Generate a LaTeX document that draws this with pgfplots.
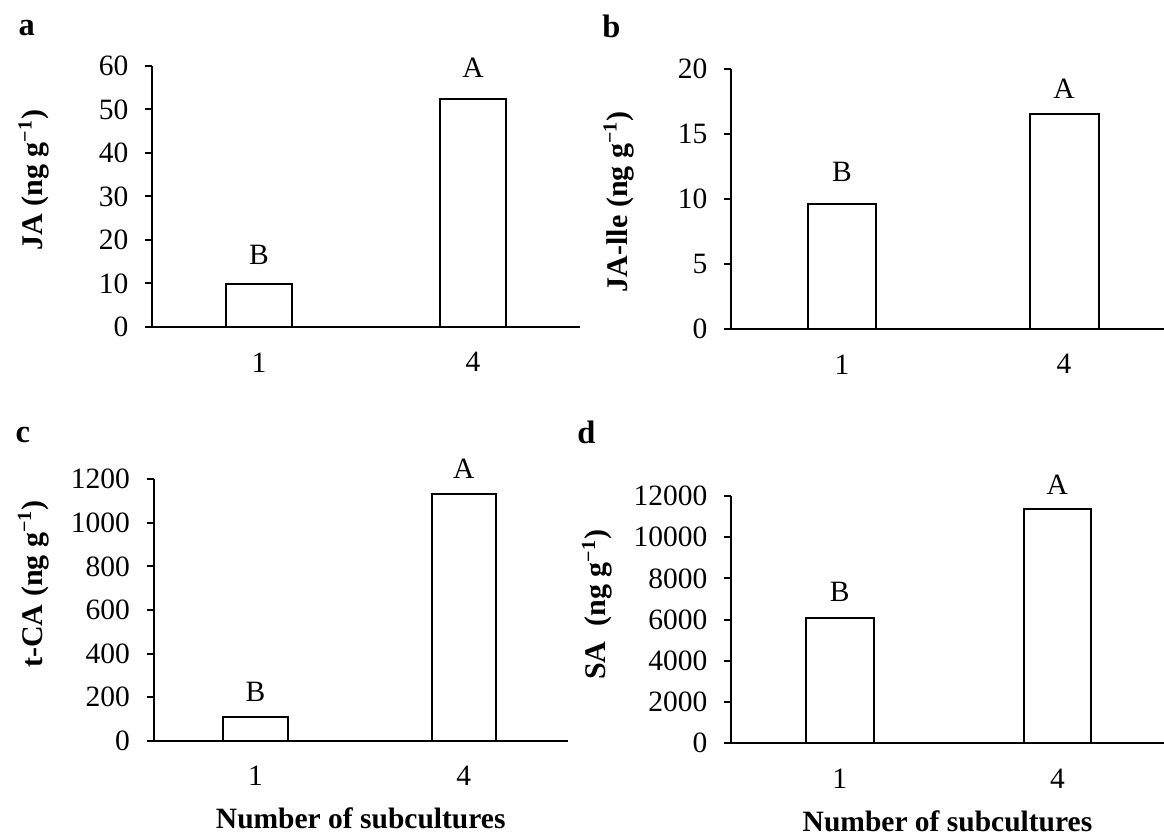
\documentclass[border=0pt]{standalone}
\usepackage{fontspec}
\setmainfont{Liberation Serif}
\usepackage{pgfplots}
\pgfplotsset{compat=1.18}
\begin{document}
\begin{tikzpicture}
\useasboundingbox (0,0) rectangle (465.6pt,333.6pt);
\tikzset{letter/.style={anchor=base west, inner sep=0pt, font=\bfseries\fontsize{13}{15}\selectfont}}
\pgfplotsset{
  panel/.style={
    scale only axis,
    anchor=south west,
    axis x line*=bottom, axis y line*=left,
    axis line style={line width=0.8pt, -, black},
    ybar, bar width=0.31,
    ymin=0,
    xtick={0,1}, xticklabels={1,4},
    x tick style={draw=none},
    tick align=outside,
    major tick length=2.8pt,
    y tick style={line width=0.8pt, black},
    tick label style={font=\fontsize{11.8}{14}\selectfont},
    /pgf/number format/assume math mode=true,
    /pgf/number format/1000 sep={},
    scaled y ticks=false,
    yticklabel style={xshift=-3.1pt},
    xticklabel style={yshift=-3.9pt},
    point meta=explicit symbolic,
    nodes near coords,
    nodes near coords style={anchor=base, font=\fontsize{11.8}{14}\selectfont, text=black, inner sep=0pt},
    clip=false,
    every axis y label/.style={rotate=90, anchor=center, font=\bfseries\fontsize{12}{14}\selectfont},
    every axis x label/.style={at={(axis description cs:0.5,0)}, anchor=base, yshift=-35.2pt, font=\bfseries\fontsize{11.8}{14}\selectfont},
  },
  bars/.style={fill=white, draw=black, line width=0.8pt,
    visualization depends on={\thisrow{dy}\as\dy},
    nodes near coords style={yshift=\dy pt}},
}
% panel a
\begin{axis}[panel, at={(60.8pt,202.8pt)}, width=171.2pt, height=104.4pt,
  xmin=-0.5, xmax=1.5, ymax=60, ytick={0,10,...,60},
  ylabel={JA (ng g\textsuperscript{−1})},
  ylabel style={at={(axis description cs:-0.276,0.563)}}]
\addplot[bars] table[x=x, y=y, meta=lab] {
x y lab dy
0 9.8 B 8.0
1 52.3 A 8.8
};
\node[letter] at (rel axis cs:-0.313,1.115) {a};
\end{axis}
% panel b
\begin{axis}[panel, at={(292.4pt,202pt)}, width=173.2pt, height=104pt,
  xmin=-0.5, xmax=1.45, ymax=20, ytick={0,5,...,20},
  ylabel={JA-lle (ng g\textsuperscript{−1})},
  ylabel style={at={(axis description cs:-0.259,0.49)}}]
\addplot[bars] table[x=x, y=y, meta=lab] {
x y lab dy
0 9.6 B 9.2
1 16.5 A 6.4
};
\node[letter] at (rel axis cs:-0.298,1.123) {b};
\end{axis}
% panel c
\begin{axis}[panel, at={(61.4pt,37.3pt)}, width=165.8pt, height=104.6pt,
  xmin=-0.49, xmax=1.5, ymax=1200, ytick={0,200,...,1200},
  ylabel={t-CA (ng g\textsuperscript{−1})},
  ylabel style={at={(axis description cs:-0.29,0.6)}},
  xlabel={Number of subcultures}]
\addplot[bars] table[x=x, y=y, meta=lab] {
x y lab dy
0 110 B 6.0
1 1133 A 6.0
};
\node[letter] at (rel axis cs:-0.334,1.139) {c};
\end{axis}
% panel d
\begin{axis}[panel, at={(292.4pt,36.3pt)}, width=173.2pt, height=98.9pt,
  xmin=-0.5, xmax=1.49, ymax=12000, ytick={0,2000,...,12000},
  ylabel={SA\ \ (ng g\textsuperscript{−1})},
  ylabel style={at={(axis description cs:-0.309,0.56)}},
  xlabel={Number of subcultures}]
\addplot[bars] table[x=x, y=y, meta=lab] {
x y lab dy
0 6080 B 6.4
1 11350 A 6.0
};
\node[letter] at (rel axis cs:-0.356,1.214) {d};
\end{axis}
\end{tikzpicture}
\end{document}
